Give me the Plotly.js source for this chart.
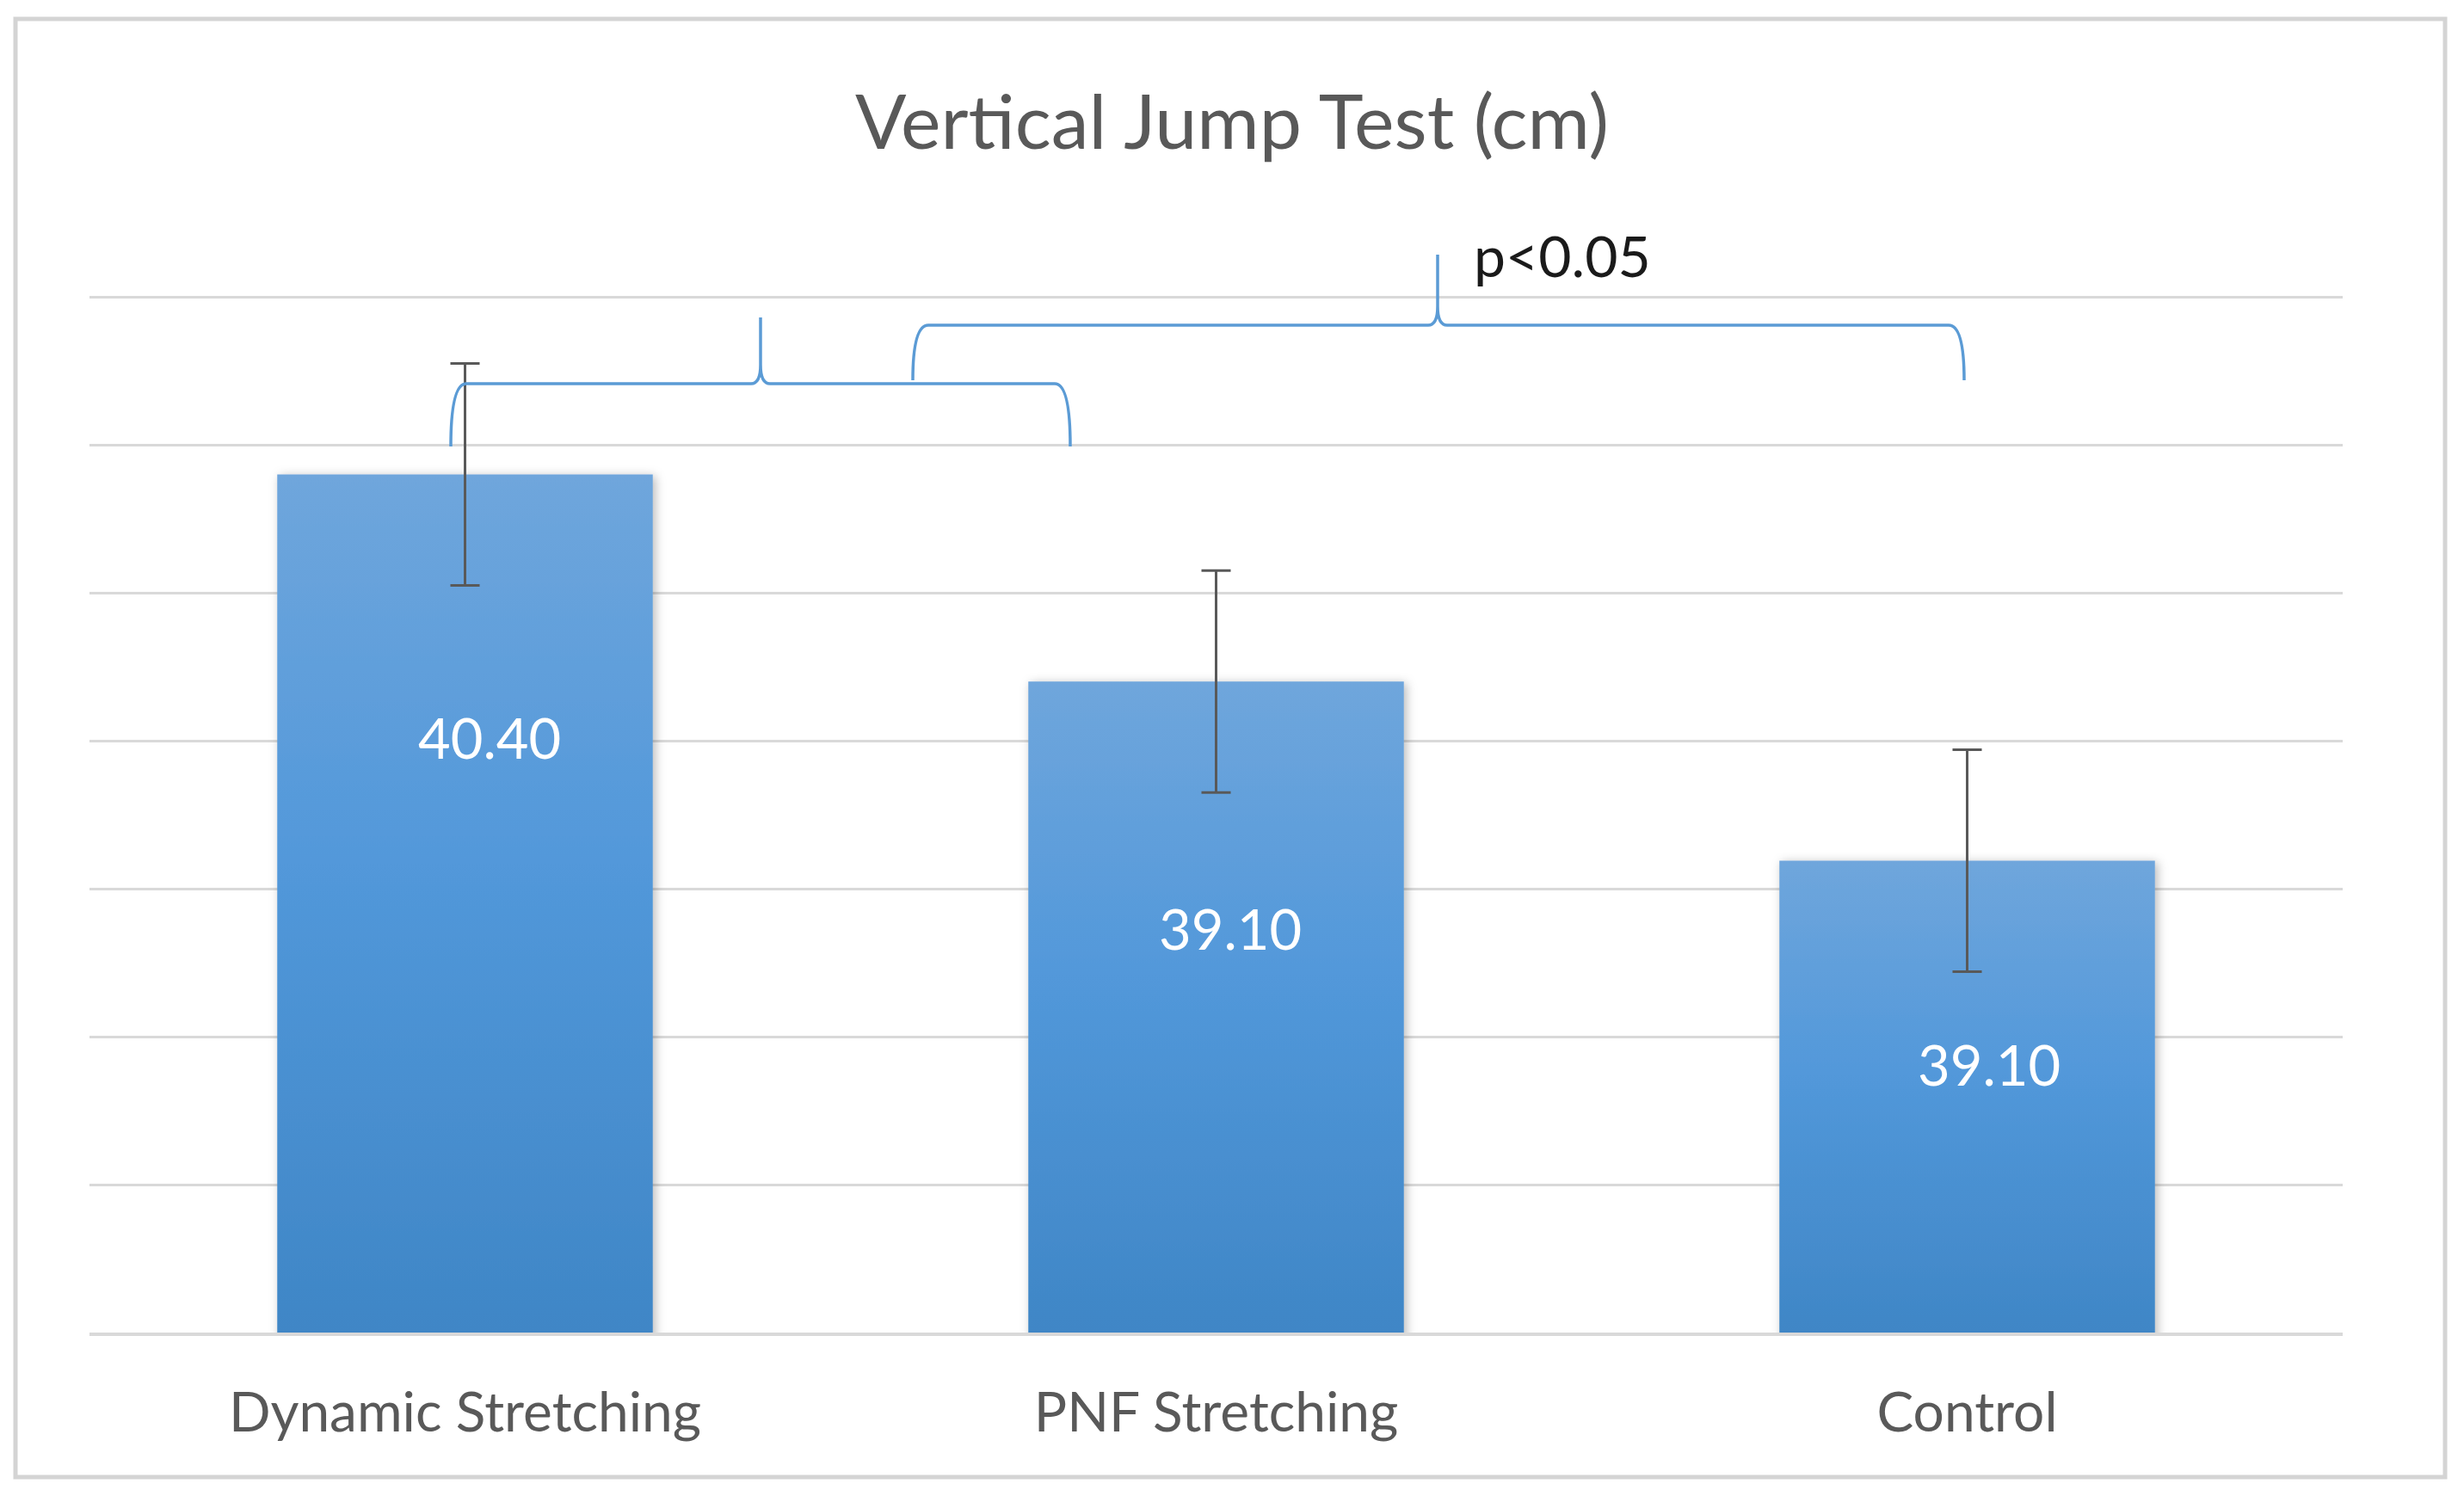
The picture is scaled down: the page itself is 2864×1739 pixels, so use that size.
<!DOCTYPE html>
<html>
<head>
<meta charset="utf-8">
<script src="https://cdn.plot.ly/plotly-3.0.1.min.js"></script>
<style>
  html, body { margin: 0; padding: 0; background: #fff; }
  #chart { width: 2864px; height: 1739px; }
</style>
</head>
<body>
<div id="chart"></div>
<script>
// groups and means (cm)
const groups = ["Dynamic Stretching", "PNF Stretching", "Control"];
const means = [40.40, 39.00, 37.79];
const errors = [0.75, 0.75, 0.75];
// labels as printed on the bars in the source figure
const valueLabels = ["40.40", "39.10", "39.10"];
const labelShift = [[28, -305], [16, -287], [25, -237]];

const significance = "p<0.05";

const Y_RANGE = [34.6, 41.63];

// plot area in pixels, used to place the annotation braces
const PLOT = { l: 104, t: 340, w: 2619, h: 1209 };
const px = x => (x - PLOT.l) / PLOT.w;
const py = y => (PLOT.t + PLOT.h - y) / PLOT.h;

function brace(xl, xr, xp, yh, yb, ytop) {
  const dx = 18, dp = 11, hp = 22;
  return "M" + px(xl) + "," + py(yb) +
    " Q" + px(xl) + "," + py(yh) + " " + px(xl + dx) + "," + py(yh) +
    " L" + px(xp - dp) + "," + py(yh) +
    " Q" + px(xp) + "," + py(yh) + " " + px(xp) + "," + py(yh - hp) +
    " L" + px(xp) + "," + py(ytop) +
    " L" + px(xp) + "," + py(yh - hp) +
    " Q" + px(xp) + "," + py(yh) + " " + px(xp + dp) + "," + py(yh) +
    " L" + px(xr - dx) + "," + py(yh) +
    " Q" + px(xr) + "," + py(yh) + " " + px(xr) + "," + py(yb);
}

const trace = {
  type: "bar",
  x: groups,
  y: means,
  marker: { color: "#5097D8" },
  error_y: {
    type: "data",
    array: errors,
    visible: true,
    color: "#595959",
    thickness: 3,
    width: 17,
  },
  hoverinfo: "skip",
};

const annotations = groups.map((g, i) => ({
  x: g,
  y: means[i],
  xref: "x",
  yref: "y",
  text: valueLabels[i],
  showarrow: false,
  xshift: labelShift[i][0],
  yshift: labelShift[i][1],
  font: { family: "Lato", size: 65, color: "#ffffff" },
}));

annotations.push({
  xref: "paper",
  yref: "paper",
  x: px(1711),
  y: py(296),
  xanchor: "left",
  yanchor: "middle",
  text: significance,
  showarrow: false,
  font: { family: "Lato", size: 66, color: "#1a1a1a" },
});

const layout = {
  width: 2864,
  height: 1739,
  margin: { l: PLOT.l, r: 2864 - PLOT.l - PLOT.w, t: PLOT.t, b: 1739 - PLOT.t - PLOT.h },
  paper_bgcolor: "#ffffff",
  plot_bgcolor: "#ffffff",
  showlegend: false,
  bargap: 0.5,
  title: {
    text: "Vertical Jump Test (cm)",
    x: 0.5,
    xanchor: "center",
    y: 1 - 142 / 1739,
    yanchor: "middle",
    font: { family: "Lato", size: 88, color: "#595959" },
  },
  xaxis: {
    showgrid: false,
    showline: true,
    linecolor: "#D9D9D9",
    linewidth: 4,
    ticks: "",
    ticklabelstandoff: 34,
    tickfont: { family: "Lato", size: 64, color: "#595959" },
  },
  yaxis: {
    range: Y_RANGE,
    tick0: Y_RANGE[0],
    dtick: 1,
    showticklabels: false,
    showgrid: true,
    gridcolor: "#D9D9D9",
    gridwidth: 3,
    zeroline: false,
    ticks: "",
  },
  annotations: annotations,
  shapes: [
    {
      type: "rect", xref: "paper", yref: "paper",
      x0: px(18), x1: px(2842), y0: py(1717), y1: py(22),
      line: { color: "#D4D4D4", width: 5 },
      layer: "below",
    },
    {
      type: "path", xref: "paper", yref: "paper",
      path: brace(524, 1244, 884, 446, 519, 369),
      line: { color: "#5B9BD5", width: 3.5 },
    },
    {
      type: "path", xref: "paper", yref: "paper",
      path: brace(1061, 2283, 1671, 378, 442, 296),
      line: { color: "#5B9BD5", width: 3.5 },
    },
  ],
};

Plotly.newPlot("chart", [trace], layout, { displayModeBar: false, staticPlot: true })
  .then(gd => {
    // Excel-style vertical gradient and soft shadow on each bar,
    // measured from the bar top down to the axis (bars start at 0, off-plot)
    const ns = "http://www.w3.org/2000/svg";
    const svg = gd.querySelector(".main-svg");
    let defs = svg.querySelector("defs");
    if (!defs) { defs = document.createElementNS(ns, "defs"); svg.prepend(defs); }

    const span = Y_RANGE[1] - Y_RANGE[0];
    const toPx = v => (Y_RANGE[1] - v) / span * PLOT.h;

    const filt = document.createElementNS(ns, "filter");
    filt.setAttribute("id", "barShadow");
    filt.setAttribute("filterUnits", "userSpaceOnUse");
    filt.setAttribute("x", "-50"); filt.setAttribute("y", "-50");
    filt.setAttribute("width", String(PLOT.w + 100));
    filt.setAttribute("height", String(PLOT.h + 100));
    const drop = document.createElementNS(ns, "feDropShadow");
    drop.setAttribute("dx", "3"); drop.setAttribute("dy", "2");
    drop.setAttribute("stdDeviation", "6");
    drop.setAttribute("flood-color", "#000");
    drop.setAttribute("flood-opacity", "0.28");
    filt.appendChild(drop);
    defs.appendChild(filt);

    gd.querySelectorAll(".barlayer .point path").forEach((p, i) => {
      const grad = document.createElementNS(ns, "linearGradient");
      grad.setAttribute("id", "barGrad" + i);
      grad.setAttribute("gradientUnits", "userSpaceOnUse");
      grad.setAttribute("x1", "0"); grad.setAttribute("x2", "0");
      grad.setAttribute("y1", String(toPx(means[i])));
      grad.setAttribute("y2", String(PLOT.h));
      [["0", "#6FA6DC"], ["0.45", "#5298DA"], ["1", "#3F86C6"]].forEach(([o, c]) => {
        const s = document.createElementNS(ns, "stop");
        s.setAttribute("offset", o);
        s.setAttribute("stop-color", c);
        grad.appendChild(s);
      });
      defs.appendChild(grad);
      p.style.fill = "url(#barGrad" + i + ")";
      p.setAttribute("filter", "url(#barShadow)");
    });
  });
</script>
</body>
</html>
